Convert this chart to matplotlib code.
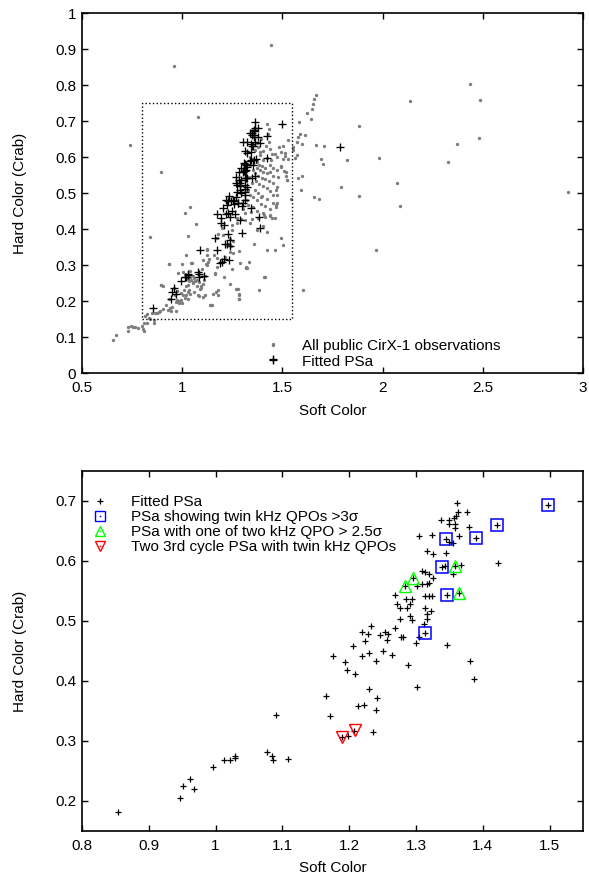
import matplotlib
matplotlib.use('Agg')
import matplotlib.pyplot as plt
import numpy as np
from matplotlib.lines import Line2D

plt.rcParams['font.family'] = ['Liberation Sans', 'DejaVu Sans']
plt.rcParams['font.size'] = 11

# all public Cir X-1 observations (soft colour, hard colour)
obs_soft = [
    1.443, 0.958, 1.077, 0.738, 0.893, 1.422, 1.583, 2.436, 2.486, 2.138, 1.884, 1.669, 1.709, 2.479,
    2.370, 2.326, 1.984, 1.821, 1.694, 1.703, 1.794, 1.884, 2.073, 2.925, 1.656, 1.681, 1.578, 1.598,
    1.591, 1.669, 1.659, 1.653, 1.648, 1.621, 1.641, 1.588, 1.614, 1.598, 1.571, 1.578, 1.526, 1.505,
    1.553, 1.554, 1.571, 1.561, 1.493, 1.511, 1.501, 1.529, 1.493, 1.518, 1.521, 1.543, 2.088, 1.967,
    1.604, 1.493, 1.501, 0.653, 0.668, 1.452, 0.838, 1.014, 1.040, 1.069, 1.030, 1.020, 0.936, 0.896,
    1.044, 1.149, 1.285, 1.283, 1.272, 1.382, 1.412, 1.465, 1.422, 1.358, 1.323, 1.471, 1.452, 1.471,
    1.465, 1.415, 1.440, 1.392, 1.469,
    0.728, 0.731, 0.744, 0.753, 0.766, 0.779, 0.803, 0.809, 0.799, 0.811, 0.824, 0.839, 0.861, 0.858,
    0.814, 0.826, 0.848, 0.864, 0.873, 0.834, 0.883, 0.891, 0.906, 0.918, 0.928, 0.938, 0.948, 0.944,
    0.971, 0.971, 0.934, 0.984, 1.001, 0.976, 0.996, 1.002, 0.994, 0.973, 0.958, 0.964, 0.893, 0.903,
    1.027, 1.012, 1.030, 1.007, 1.017, 1.036, 1.057, 1.072, 1.052, 1.036, 1.027, 1.040, 1.055, 1.072,
    1.084, 1.094, 1.105, 1.090, 1.082, 1.114, 1.145, 1.152, 1.169, 1.179, 1.164, 1.209, 1.240, 1.278,
    1.408, 1.318, 1.249, 1.287, 1.333, 0.934, 1.001, 1.047, 1.125, 1.039, 1.177, 1.102,
    0.981, 1.004, 1.039, 1.044, 1.059, 1.066, 1.054, 1.030, 1.020, 0.982, 0.972, 1.100, 1.112, 1.109,
    1.094, 1.079, 1.140, 1.165, 1.270, 1.283, 1.283, 1.119, 1.125, 1.132, 1.124, 1.174, 1.240, 1.253,
    1.285, 1.320, 1.422, 1.373, 1.402, 1.380, 1.338, 1.348, 1.315, 1.293, 1.275, 1.272, 1.247, 1.250,
    1.345, 1.372, 1.410, 1.438, 1.448, 1.197, 1.205, 1.160, 1.172, 1.180, 1.122, 1.105, 1.130, 1.172,
    1.230, 1.245, 1.255, 1.238, 1.200, 1.215,
    1.435, 1.428, 1.432, 1.388, 1.405, 1.418, 1.438, 1.448, 1.465, 1.481, 1.515, 1.475, 1.422, 1.443,
    1.401, 1.388, 1.372, 1.382, 1.398, 1.415, 1.438, 1.455, 1.471, 1.495, 1.508, 1.516, 1.477, 1.455,
    1.438, 1.422, 1.405, 1.388, 1.372, 1.363, 1.380, 1.397, 1.413, 1.435, 1.455, 1.471, 1.368, 1.385,
    1.405, 1.422, 1.438, 1.468, 1.452, 1.365, 1.380, 1.398, 1.422, 1.352, 1.372, 1.392, 1.415, 1.438,
    1.468, 1.524, 1.355, 1.405, 1.380, 1.338, 1.355, 1.338, 1.355, 1.335, 1.347, 1.330, 1.338, 1.322,
    1.330, 1.305, 1.313, 1.373, 1.395, 1.365,
]
obs_hard = [
    0.913, 0.854, 0.713, 0.635, 0.560, 0.691, 0.698, 0.803, 0.760, 0.756, 0.687, 0.633, 0.632, 0.652,
    0.637, 0.587, 0.598, 0.591, 0.595, 0.582, 0.518, 0.493, 0.528, 0.504, 0.489, 0.483, 0.541, 0.547,
    0.510, 0.774, 0.761, 0.748, 0.734, 0.723, 0.705, 0.665, 0.663, 0.637, 0.641, 0.655, 0.649, 0.631,
    0.629, 0.619, 0.605, 0.598, 0.615, 0.611, 0.594, 0.594, 0.576, 0.559, 0.536, 0.483, 0.464, 0.343,
    0.231, 0.376, 0.355, 0.092, 0.107, 0.080, 0.377, 0.445, 0.461, 0.413, 0.381, 0.329, 0.302, 0.244,
    0.306, 0.189, 0.206, 0.219, 0.234, 0.231, 0.267, 0.343, 0.342, 0.359, 0.292, 0.494, 0.473, 0.472,
    0.432, 0.434, 0.437, 0.489, 0.462,
    0.118, 0.128, 0.132, 0.127, 0.127, 0.125, 0.123, 0.118, 0.132, 0.140, 0.140, 0.151, 0.140, 0.147,
    0.158, 0.163, 0.166, 0.166, 0.168, 0.153, 0.169, 0.173, 0.177, 0.188, 0.175, 0.181, 0.184, 0.173,
    0.173, 0.198, 0.206, 0.194, 0.194, 0.204, 0.204, 0.216, 0.223, 0.229, 0.236, 0.218, 0.246, 0.243,
    0.225, 0.208, 0.205, 0.232, 0.242, 0.232, 0.226, 0.243, 0.252, 0.255, 0.261, 0.268, 0.270, 0.259,
    0.253, 0.242, 0.248, 0.234, 0.215, 0.217, 0.190, 0.219, 0.224, 0.230, 0.274, 0.267, 0.247, 0.235,
    0.268, 0.294, 0.288, 0.305, 0.310, 0.303, 0.303, 0.306, 0.301, 0.221, 0.217, 0.212,
    0.279, 0.281, 0.284, 0.258, 0.265, 0.256, 0.249, 0.244, 0.217, 0.200, 0.228, 0.290, 0.271, 0.258,
    0.237, 0.218, 0.189, 0.277, 0.233, 0.218, 0.205, 0.303, 0.328, 0.318, 0.345, 0.374, 0.336, 0.335,
    0.338, 0.291, 0.393, 0.397, 0.409, 0.430, 0.416, 0.427, 0.425, 0.427, 0.431, 0.418, 0.412, 0.397,
    0.449, 0.450, 0.440, 0.440, 0.432, 0.402, 0.383, 0.328, 0.319, 0.386, 0.342, 0.314, 0.308, 0.295,
    0.360, 0.352, 0.368, 0.372, 0.310, 0.322,
    0.677, 0.664, 0.643, 0.615, 0.617, 0.631, 0.624, 0.608, 0.610, 0.629, 0.604, 0.601, 0.599, 0.592,
    0.592, 0.605, 0.586, 0.578, 0.575, 0.570, 0.577, 0.571, 0.564, 0.573, 0.562, 0.548, 0.544, 0.549,
    0.558, 0.555, 0.559, 0.564, 0.569, 0.555, 0.547, 0.543, 0.538, 0.534, 0.527, 0.518, 0.534, 0.525,
    0.519, 0.513, 0.506, 0.508, 0.494, 0.510, 0.501, 0.492, 0.485, 0.490, 0.481, 0.471, 0.464, 0.456,
    0.467, 0.536, 0.462, 0.445, 0.627, 0.601, 0.596, 0.578, 0.564, 0.545, 0.527, 0.508, 0.494, 0.481,
    0.467, 0.457, 0.444, 0.640, 0.650, 0.620,
]

# fitted power spectra (PSa)
psa_soft = [
    0.854, 0.947, 0.952, 0.962, 0.968, 0.996, 1.012, 1.021, 1.029, 1.029, 1.077, 1.085, 1.086, 1.091,
    1.109, 1.165, 1.172, 1.189, 1.198, 1.207, 1.213, 1.222, 1.236, 1.241, 1.240,
    1.362, 1.376, 1.363, 1.360, 1.357, 1.338, 1.350, 1.349, 1.358, 1.358, 1.379, 1.421, 1.304, 1.324,
    1.345, 1.350, 1.355, 1.364, 1.390, 1.316, 1.325, 1.345, 1.422, 1.339, 1.343, 1.359, 1.367, 1.355,
    1.309, 1.314, 1.320, 1.325, 1.296, 1.320, 1.316, 1.284, 1.302, 1.309, 1.314, 1.319, 1.324, 1.347,
    1.365, 1.268, 1.271, 1.285, 1.294, 1.291, 1.276, 1.287, 1.314, 1.323, 1.316, 1.276, 1.291, 1.294,
    1.316, 1.312, 1.232, 1.269, 1.254, 1.258, 1.219, 1.228, 1.246, 1.278, 1.281, 1.257, 1.223, 1.305,
    1.313, 1.300, 1.346, 1.206, 1.251, 1.230, 1.219, 1.264, 1.176, 1.193, 1.240, 1.288, 1.381, 1.196,
    1.209, 1.387, 1.230, 1.301, 1.497, 1.453, 1.789,
]
psa_hard = [
    0.182, 0.205, 0.225, 0.236, 0.219, 0.256, 0.268, 0.268, 0.272, 0.275, 0.281, 0.275, 0.268, 0.343,
    0.270, 0.375, 0.341, 0.307, 0.308, 0.317, 0.358, 0.360, 0.314, 0.371, 0.352,
    0.697, 0.682, 0.681, 0.675, 0.672, 0.668, 0.668, 0.661, 0.661, 0.655, 0.657, 0.660, 0.641, 0.643,
    0.636, 0.632, 0.630, 0.641, 0.639, 0.617, 0.611, 0.613, 0.597, 0.590, 0.592, 0.591, 0.594, 0.578,
    0.584, 0.581, 0.578, 0.572, 0.571, 0.563, 0.561, 0.559, 0.559, 0.561, 0.541, 0.542, 0.541, 0.543,
    0.547, 0.544, 0.529, 0.536, 0.536, 0.528, 0.522, 0.521, 0.522, 0.516, 0.512, 0.504, 0.508, 0.501,
    0.503, 0.495, 0.492, 0.489, 0.481, 0.479, 0.481, 0.478, 0.477, 0.473, 0.473, 0.469, 0.467, 0.473,
    0.480, 0.463, 0.460, 0.458, 0.450, 0.446, 0.442, 0.443, 0.441, 0.432, 0.433, 0.426, 0.433, 0.418,
    0.411, 0.404, 0.387, 0.390, 0.693, 0.038, 0.628,
]

# PSa with twin kHz QPOs > 3 sigma
twin_soft = [1.497, 1.421, 1.390, 1.345, 1.339, 1.347, 1.313]
twin_hard = [0.693, 0.660, 0.639, 0.636, 0.590, 0.543, 0.480]

# PSa with one of two kHz QPOs > 2.5 sigma
one_soft = [1.296, 1.284, 1.359, 1.365]
one_hard = [0.571, 0.559, 0.591, 0.547]

# 3rd cycle PSa with twin kHz QPOs
third_soft = [1.189, 1.208]
third_hard = [0.306, 0.318]

# zoom box drawn on the top panel = limits of the bottom panel
zoom_x = [0.8, 1.55]
zoom_y = [0.15, 0.75]

fig = plt.figure(figsize=(5.89, 8.82), dpi=100)
ax1 = fig.add_axes([0.139, 0.577, 0.851, 0.408])
ax2 = fig.add_axes([0.139, 0.058, 0.851, 0.408])

grey = '#7c7c7c'
blue, green, red = '#0000ff', '#00ff00', '#ff0000'


def style_axes(ax):
    for s in ax.spines.values():
        s.set_linewidth(1.2)
    ax.tick_params(direction='in', length=4, width=1, top=True, right=True, labelsize=11)
    ax.tick_params(axis='x', pad=6)
    ax.tick_params(axis='y', pad=4)
    ax.set_xlabel('Soft Color', fontsize=11)
    ax.set_ylabel('Hard Color (Crab)', fontsize=11)
    ax.xaxis.set_label_coords(0.5, -0.085)
    ax.yaxis.set_label_coords(-0.11, 0.5)


# top panel: everything
ax1.plot(obs_soft, obs_hard, 'o', ms=2.4, color=grey, mec='none',
         label='All public CirX-1 observations')
ax1.plot(psa_soft, psa_hard, '+', ms=5.2, mew=0.95, color='black', label='Fitted PSa')
ax1.plot([zoom_x[0], zoom_x[1], zoom_x[1], zoom_x[0], zoom_x[0]],
         [zoom_y[0], zoom_y[0], zoom_y[1], zoom_y[1], zoom_y[0]],
         ls=':', color='black', lw=1.0)
ax1.set_xlim(0.5, 3)
ax1.set_ylim(0, 1)
ax1.set_xticks([0.5, 1, 1.5, 2, 2.5, 3])
ax1.set_xticklabels(['0.5', '1', '1.5', '2', '2.5', '3'])
ax1.set_yticks(np.arange(0, 1.01, 0.1))
ax1.set_yticklabels(['0', '0.1', '0.2', '0.3', '0.4', '0.5', '0.6', '0.7', '0.8', '0.9', '1'])
style_axes(ax1)
ax1.legend(loc='lower left', bbox_to_anchor=(0.351, 0.012), frameon=False, borderpad=0,
           borderaxespad=0, handlelength=2, handletextpad=0.9, labelspacing=0.12, fontsize=11)

# bottom panel: fitted PSa close up
ax2.plot(psa_soft, psa_hard, '+', ms=5, mew=0.9, color='black')
ax2.plot(twin_soft, twin_hard, 's', ms=8, mew=1.1, mfc='none', mec=blue)
ax2.plot(one_soft, one_hard, '^', ms=8, mew=1.0, mfc='none', mec=green)
ax2.plot(third_soft, third_hard, 'v', ms=8, mew=1.0, mfc='none', mec=red)
ax2.set_xlim(0.8, 1.55)
ax2.set_ylim(0.15, 0.75)
ax2.set_xticks(np.arange(0.8, 1.51, 0.1))
ax2.set_xticklabels(['0.8', '0.9', '1', '1.1', '1.2', '1.3', '1.4', '1.5'])
ax2.set_yticks(np.arange(0.2, 0.71, 0.1))
ax2.set_yticklabels(['0.2', '0.3', '0.4', '0.5', '0.6', '0.7'])
style_axes(ax2)


# key symbols: open markers carry a small dot in the middle
def key(marker, color):
    return (Line2D([], [], ls='none', marker=marker, ms=7, mew=1.0, mfc='none', mec=color),
            Line2D([], [], ls='none', marker='o', ms=1.2, color=color, mec='none'))


handles = [Line2D([], [], ls='none', marker='+', ms=5, mew=0.9, color='black'),
           key('s', blue), key('^', green), key('v', red)]
labels = ['Fitted PSa', 'PSa showing twin kHz QPOs >3σ',
          'PSa with one of two kHz QPO > 2.5σ', 'Two 3rd cycle PSa with twin kHz QPOs']
ax2.legend(handles, labels, loc='upper left', bbox_to_anchor=(0.005, 0.932), frameon=False,
           borderpad=0, borderaxespad=0, handlelength=2, handletextpad=1.07,
           labelspacing=0.065, fontsize=11)

fig.savefig('out.png', dpi=100)
